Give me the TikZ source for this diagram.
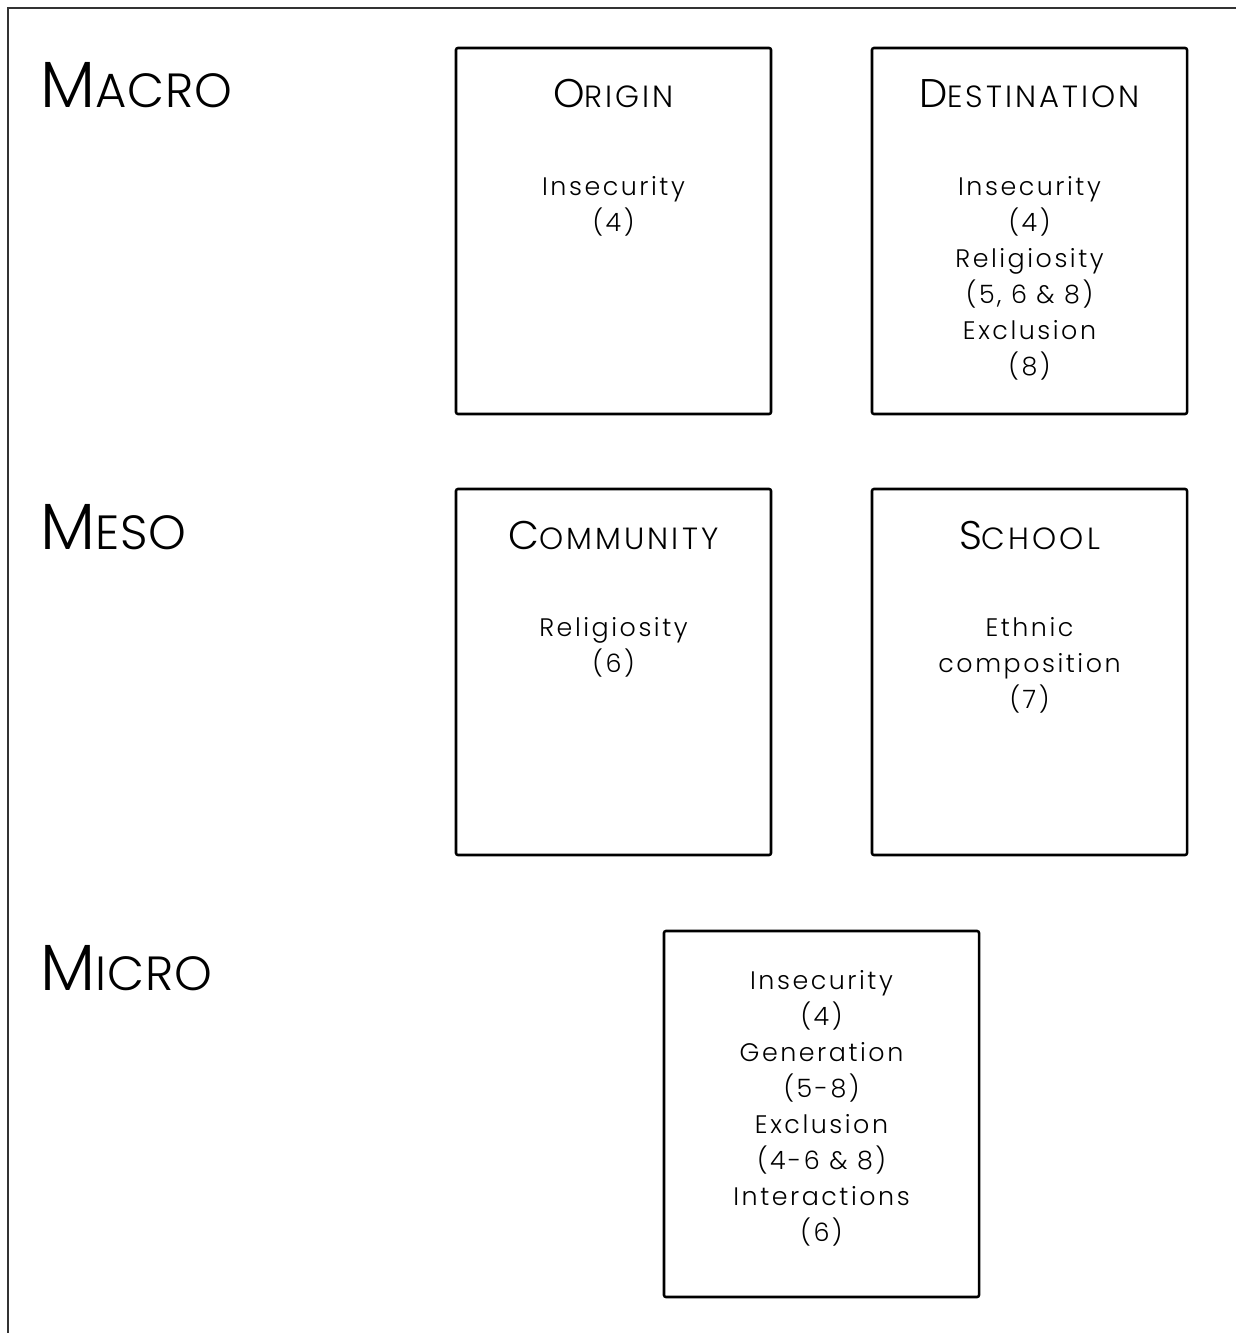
\documentclass[tikz,border=0pt]{standalone}
\usepackage{fontspec}
\IfFontExistsTF{Poppins Light}{\setmainfont{Poppins Light}[LetterSpace=10]}{\setmainfont{Poppins}[LetterSpace=10]}
\newcommand{\mysc}[4]{{\fontsize{#1}{#1}\selectfont #3}{\fontsize{#2}{#2}\selectfont #4}}
\begin{document}
\begin{tikzpicture}[x=0.75pt,y=-0.75pt,
  box/.style={draw=black, line width=1.9pt, rounded corners=1.5pt, minimum width=236.25pt, minimum height=274.5pt, inner sep=0pt},
  title/.style={anchor=base, inner sep=0pt},
  body/.style={anchor=north, inner sep=0pt, align=center, font=\fontsize{19}{27}\selectfont},
  level/.style={anchor=base west, inner sep=0pt, font=\addfontfeatures{LetterSpace=2}}]
\useasboundingbox (0,0) rectangle (1236,1333);
\draw[line width=2pt, black!80] (8,1333) -- (8,8) -- (1236,8);
% level labels
\node[level] (macro) at (40,108) {\mysc{49}{36}{M}{ACRO}};
\node[level] (meso) at (40,549) {\mysc{49}{36}{M}{ESO}};
\node[level] (micro) at (40,990) {\mysc{49}{36}{M}{ICRO}};
% boxes
\node[box] (origin) at (613.5,231) {};
\node[box] (dest) at (1029.5,231) {};
\node[box] (comm) at (613.5,672) {};
\node[box] (school) at (1029.5,672) {};
\node[box] (microbox) at (821.5,1114) {};
% titles
\node[title] (origint) at (613.5,108) {\mysc{30}{23}{O}{RIGIN}};
\node[title] (destt) at (1029.5,108) {\mysc{30}{23}{D}{ESTINATION}};
\node[title] (commt) at (613.5,549) {\mysc{30}{23}{C}{OMMUNITY}};
\node[title] (schoolt) at (1029.5,549) {\mysc{30}{23}{S}{CHOOL}};
% bodies
\node[body] (originb) at (613.5,176) {Insecurity\\(4)};
\node[body] (destb) at (1029.5,176) {Insecurity\\(4)\\Religiosity\\(5, 6 \& 8)\\Exclusion\\(8)};
\node[body] (commb) at (613.5,617) {Religiosity\\(6)};
\node[body] (schoolb) at (1029.5,617) {Ethnic\\composition\\(7)};
\node[body] (microb) at (821.5,970) {Insecurity\\(4)\\Generation\\(5-8)\\Exclusion\\(4-6 \& 8)\\Interactions\\(6)};
\end{tikzpicture}
\end{document}
